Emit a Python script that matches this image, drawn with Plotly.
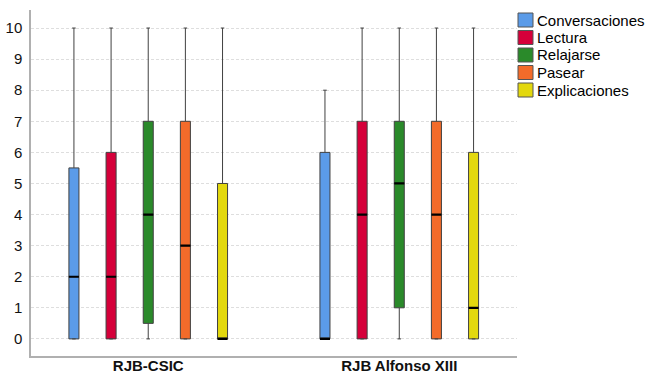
import plotly.graph_objects as go

groups = ["RJB-CSIC", "RJB Alfonso XIII"]
series = ["Conversaciones", "Lectura", "Relajarse", "Pasear", "Explicaciones"]
colors = ["#5b9be8", "#d5003a", "#2a8a2a", "#f36b2a", "#e3d80e"]

# per series: values for [RJB-CSIC, RJB Alfonso XIII]
lower = {"Conversaciones": [0, 0], "Lectura": [0, 0], "Relajarse": [0, 0], "Pasear": [0, 0], "Explicaciones": [0, 0]}
q1 = {"Conversaciones": [0, 0], "Lectura": [0, 0], "Relajarse": [0.5, 1], "Pasear": [0, 0], "Explicaciones": [0, 0]}
median = {"Conversaciones": [2, 0], "Lectura": [2, 4], "Relajarse": [4, 5], "Pasear": [3, 4], "Explicaciones": [0, 1]}
q3 = {"Conversaciones": [5.5, 6], "Lectura": [6, 7], "Relajarse": [7, 7], "Pasear": [7, 7], "Explicaciones": [5, 6]}
upper = {"Conversaciones": [10, 8], "Lectura": [10, 10], "Relajarse": [10, 10], "Pasear": [10, 10], "Explicaciones": [10, 10]}

W, H = 646, 375
L, R, T, B = 31, 129, 10, 19
pw, ph = W - L - R, H - T - B

fig = go.Figure()
for s, c in zip(series, colors):
    fig.add_trace(go.Box(
        name=s, x=groups, offsetgroup=s,
        lowerfence=lower[s], q1=q1[s], median=median[s], q3=q3[s], upperfence=upper[s],
        fillcolor=c, line=dict(color="#404040", width=1),
        whiskerwidth=0.35, boxpoints=False, showlegend=False,
    ))
# thick median bars drawn on top of each box
for s in series:
    fig.add_trace(go.Box(
        name=s + " mediana", x=groups, offsetgroup=s,
        lowerfence=median[s], q1=median[s], median=median[s], q3=median[s], upperfence=median[s],
        fillcolor="rgba(0,0,0,0)", line=dict(color="#000000", width=2.2),
        whiskerwidth=0, boxpoints=False, showlegend=False, hoverinfo="skip",
    ))

# manual legend (swatches + labels)
leg_x0 = 518
leg_rows = [20, 37.5, 55, 72.5, 90]
sq = 14
for s, c, yc in zip(series, colors, leg_rows):
    fig.add_shape(type="rect", xref="paper", yref="paper",
                  x0=(leg_x0 - L) / pw, x1=(leg_x0 + sq + 1 - L) / pw,
                  y0=(H - B - (yc + sq / 2)) / ph, y1=(H - B - (yc - sq / 2)) / ph,
                  fillcolor=c, line=dict(color="#555555", width=1))
    fig.add_annotation(text=s, xref="paper", yref="paper",
                       x=(leg_x0 + sq + 3 - L) / pw, y=(H - B - yc) / ph,
                       xanchor="left", yanchor="middle", showarrow=False,
                       font=dict(size=15, color="#000000"))

fig.update_layout(
    width=W, height=H,
    margin=dict(l=L, r=R, t=T, b=B, autoexpand=False),
    paper_bgcolor="white", plot_bgcolor="white",
    boxmode="group", boxgap=0.26, boxgroupgap=0.73,
    font=dict(family="Liberation Sans, Arial, sans-serif", color="#111111"),
    showlegend=False,
    xaxis=dict(type="category", range=[-0.467, 1.469], automargin=False,
               showline=True, linecolor="#b0b0b0", linewidth=1.5,
               ticks="", showgrid=False,
               tickfont=dict(size=15, color="#111111", weight="bold"),
               ticklabelstandoff=-5),
    yaxis=dict(range=[-0.55, 10.58], tickvals=list(range(0, 11)), automargin=False,
               showline=True, linecolor="#b0b0b0", linewidth=1.5,
               showgrid=True, gridcolor="#dedede", griddash="3px,2px", gridwidth=1,
               zeroline=False, ticks="", tickfont=dict(size=15, color="#111111"),
               ticklabelstandoff=4),
)
fig.write_html("out.html")
